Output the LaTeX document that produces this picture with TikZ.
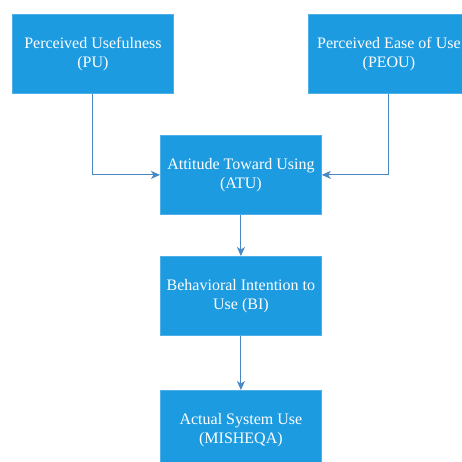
\documentclass[tikz,border=0pt]{standalone}
\usepackage{fontspec}
\setmainfont{Liberation Serif}
\usetikzlibrary{arrows.meta}
\definecolor{boxfill}{HTML}{1D9BE0}
\definecolor{boxline}{HTML}{4FB0E8}
\definecolor{conn}{HTML}{4A88C4}
\tikzset{
  tambox/.style={draw=boxline, line width=0.8pt, fill=boxfill, minimum width=161pt, minimum height=79pt,
    inner sep=0pt, text=white, align=center, font=\fontsize{16pt}{19.5pt}\selectfont, anchor=north west},
  link/.style={draw=conn, line width=1.1pt, -{Stealth[length=9pt,width=8pt,inset=2.5pt]}}
}
\begin{document}
\begin{tikzpicture}[x=1pt,y=-1pt]
\useasboundingbox (0,0) rectangle (462,461);
\node[tambox] (pu) at (12,14) {Perceived Usefulness\\(PU)};
\node[tambox] (peou) at (308,14) {Perceived Ease of Use\\(PEOU)};
\node[tambox] (atu) at (160,135) {Attitude Toward Using\\(ATU)};
\node[tambox] (bi) at (160,256) {Behavioral Intention to\\Use (BI)};
\node[tambox] (asu) at (160,390) {Actual System Use\\(MISHEQA)};
\draw[link] (pu.south) |- (atu.west);
\draw[link] (peou.south) |- (atu.east);
\draw[link] (atu.south) -- (bi.north);
\draw[link] (bi.south) -- (asu.north);
\end{tikzpicture}
\end{document}
